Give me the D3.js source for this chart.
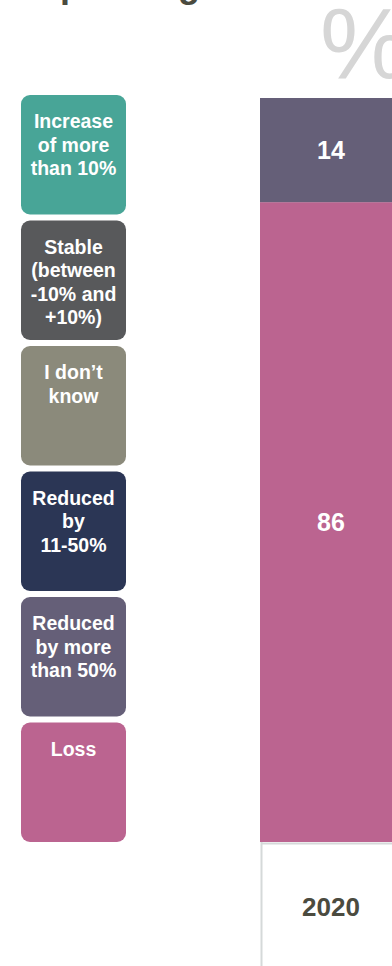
<!DOCTYPE html>
<html>
<head>
<meta charset="utf-8">
<script src="https://cdn.jsdelivr.net/npm/d3@7"></script>
<style>
  html, body { margin: 0; padding: 0; background: #ffffff; }
  svg { display: block; font-family: "Liberation Sans", Arial, sans-serif; }
</style>
</head>
<body>
<svg id="chart" width="392" height="966"></svg>
<script>
// ---- data ----
const categories = ["2020"];
const seriesNames = ["Increase of more than 10%", "Stable (between -10% and +10%)", "I don’t know", "Reduced by 11-50%", "Reduced by more than 50%", "Loss"];
const legendLines = [
  ["Increase", "of more", "than 10%"],
  ["Stable", "(between", "-10% and", "+10%)"],
  ["I don’t", "know"],
  ["Reduced", "by", "11-50%"],
  ["Reduced", "by more", "than 50%"],
  ["Loss"]
];
const seriesColors = ["#48a597", "#58595b", "#8b8a7b", "#2b3655", "#655f78", "#bb6490"];
const increaseValues = [0];
const stableValues = [0];
const dontKnowValues = [0];
const reduced11to50Values = [0];
const reducedOver50Values = [14];
const lossValues = [86];
const titleText = "Spending";
const unitText = "%";

// ---- build ----
const seriesValues = [increaseValues, stableValues, dontKnowValues, reduced11to50Values, reducedOver50Values, lossValues];
const rows = categories.map((c, i) => {
  const r = { cat: c };
  seriesNames.forEach((s, j) => { r[s] = seriesValues[j][i]; });
  return r;
});
const stackKeys = seriesNames.slice().reverse();
const stacked = d3.stack().keys(stackKeys)(rows);
const color = d3.scaleOrdinal().domain(seriesNames).range(seriesColors);

const svg = d3.select("#chart");

const x = d3.scaleBand().domain(categories).range([261, 401]).padding(0);
const y = d3.scaleLinear().domain([0, 100]).range([842, 98]);

// title (cropped at top)
svg.append("text")
  .attr("x", 36).attr("y", -3)
  .attr("font-size", 36).attr("font-weight", "bold")
  .attr("fill", "#4b4b3f")
  .text(titleText);

// unit symbol
svg.append("text")
  .attr("x", 320).attr("y", 78)
  .attr("font-size", 100)
  .attr("fill", "#d6d6d6")
  .text(unitText);

// bars
const layer = svg.append("g").selectAll("g").data(stacked).join("g")
  .attr("fill", d => color(d.key));
layer.selectAll("rect").data(d => d.map(v => ({ key: d.key, v, cat: v.data.cat })))
  .join("rect")
  .attr("x", d => x(d.cat) - 1)
  .attr("width", x.bandwidth() + 2)
  .attr("y", d => y(d.v[1]))
  .attr("height", d => y(d.v[0]) - y(d.v[1]));

// value labels
const labelData = [];
stacked.forEach(s => s.forEach(v => {
  const val = v[1] - v[0];
  if (val > 0) labelData.push({ val, mid: (v[0] + v[1]) / 2, cat: v.data.cat });
}));
svg.append("g").selectAll("text").data(labelData).join("text")
  .attr("x", d => x(d.cat) + x.bandwidth() / 2)
  .attr("y", d => y(d.mid))
  .attr("dy", "0.36em")
  .attr("text-anchor", "middle")
  .attr("font-size", 25).attr("font-weight", "bold")
  .attr("fill", "#ffffff")
  .text(d => d3.format("d")(d.val));

// x axis
const xAxis = svg.append("g").attr("transform", "translate(0,843)")
  .call(d3.axisBottom(x).tickSize(0).tickPadding(55));
xAxis.select(".domain").attr("stroke", "#d5d9d9").attr("stroke-width", 2);
xAxis.selectAll(".tick text")
  .attr("font-family", "Liberation Sans, Arial, sans-serif")
  .attr("font-size", 26).attr("font-weight", "bold")
  .attr("fill", "#4b4b3f");
// category divider
svg.append("line")
  .attr("x1", x.range()[0] + 0.5).attr("x2", x.range()[0] + 0.5)
  .attr("y1", 842).attr("y2", 966)
  .attr("stroke", "#d5d9d9").attr("stroke-width", 2);

// legend
const ly = d3.scaleBand().domain(seriesNames).range([95, 842]).paddingInner(0.048);
const lg = svg.append("g").selectAll("g").data(seriesNames).join("g")
  .attr("transform", d => `translate(21,${ly(d)})`);
lg.append("rect")
  .attr("width", 105).attr("height", ly.bandwidth())
  .attr("rx", 9).attr("ry", 9)
  .attr("fill", d => color(d));
lg.each(function(d, i) {
  const t = d3.select(this).append("text")
    .attr("text-anchor", "middle")
    .attr("font-size", 19.5).attr("font-weight", "bold")
    .attr("fill", "#ffffff");
  legendLines[i].forEach((line, k) => {
    t.append("tspan").attr("x", 52.5).attr("y", 33 + k * 23.5).text(line);
  });
});
</script>
</body>
</html>
